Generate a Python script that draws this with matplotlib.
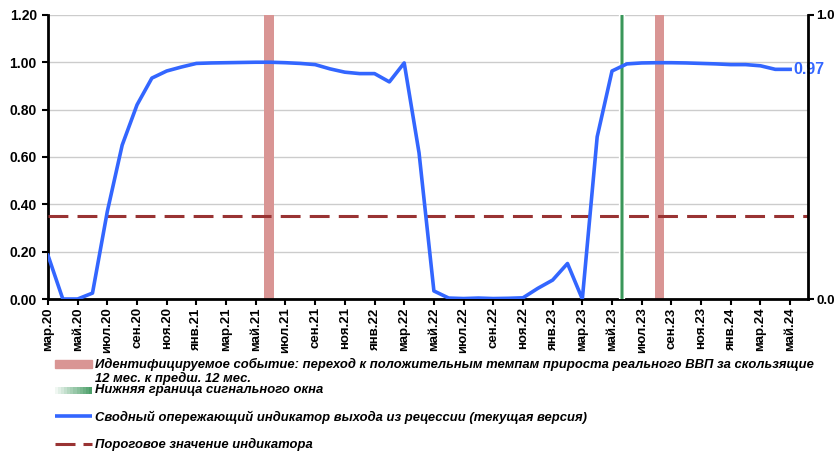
import numpy as np
import matplotlib.pyplot as plt
from matplotlib.lines import Line2D
from matplotlib.patches import Rectangle

plt.rcParams['font.family'] = ['Liberation Sans', 'DejaVu Sans']
plt.rcParams['font.weight'] = 'bold'

# помесячные значения индикатора, мар.20 - май.24
indicator = [0.185, 0.0, 0.0, 0.025, 0.37, 0.65, 0.82, 0.933, 0.963, 0.98,
             0.995, 0.997, 0.998, 0.999, 1.0, 1.0, 0.998, 0.995, 0.99, 0.972,
             0.958, 0.952, 0.952, 0.917, 0.997, 0.617, 0.034, 0.004, 0.002, 0.004,
             0.002, 0.003, 0.005, 0.045, 0.08, 0.15, 0.0, 0.685, 0.963, 0.993,
             0.997, 0.998, 0.998, 0.997, 0.995, 0.993, 0.99, 0.99, 0.985, 0.97,
             0.97]
tick_labels = ['мар.20', 'май.20', 'июл.20', 'сен.20', 'ноя.20', 'янв.21',
               'мар.21', 'май.21', 'июл.21', 'сен.21', 'ноя.21', 'янв.22',
               'мар.22', 'май.22', 'июл.22', 'сен.22', 'ноя.22', 'янв.23',
               'мар.23', 'май.23', 'июл.23', 'сен.23', 'ноя.23', 'янв.24',
               'мар.24', 'май.24']
event_pos = [14.9, 41.2]      # идентифицируемые события (в месяцах от мар.20)
window_pos = 38.65            # нижняя граница сигнального окна
threshold = 0.35

x = np.arange(len(indicator))

fig = plt.figure(figsize=(8.37, 4.51), dpi=100)
ax = fig.add_axes([0.0573, 0.337, 0.908, 0.63])

ax.set_ylim(0, 1.2)
ax.set_xlim(0, 51.2)
ax.set_yticks(np.arange(0, 1.21, 0.2))
ax.set_yticklabels(['%.2f' % v for v in np.arange(0, 1.21, 0.2)], fontsize=10)
ax.grid(axis='y', color='#cccccc', linewidth=1)
ax.set_axisbelow(True)

ax.bar(event_pos, [1.2] * len(event_pos), width=0.67, color='#d99594', zorder=2)
ax.axhline(threshold, color='#993333', linewidth=2.2, dashes=(6.5, 3), zorder=3)
ax.axvline(window_pos, color='white', linewidth=4.5, zorder=4)
ax.axvline(window_pos, color='#9fd0ae', linewidth=2.8, zorder=4)
ax.axvline(window_pos, color='#3a965a', linewidth=1.6, zorder=4)
ax.plot(x, indicator, color='#3366ff', linewidth=2.6, zorder=5, solid_joinstyle='round')
ax.text(x[-1] - 0.1 + 0.35, indicator[-1], '%.2f' % indicator[-1], color='#3366ff',
        fontsize=11.5, fontweight='bold', va='center', ha='left', zorder=6)

ax.set_xticks(x[::2])
ax.set_xticklabels(tick_labels, rotation=90, fontsize=9.5)
ax.tick_params(axis='x', direction='out', length=4, width=1.5, pad=2)
ax.tick_params(axis='y', direction='out', length=4, width=1.5, pad=4)
for s in ['left', 'bottom']:
    ax.spines[s].set_linewidth(2)
ax.spines['top'].set_visible(False)

ax2 = ax.twinx()
ax2.set_ylim(0, 1.0)
ax2.set_yticks([0, 1.0])
ax2.set_yticklabels(['0.0', '1.0'], fontsize=9.5)
ax2.tick_params(axis='y', direction='out', length=4, width=1.5, pad=2)
ax2.spines['right'].set_linewidth(2)
ax2.spines['top'].set_visible(False)
ax2.spines['left'].set_visible(False)
ax2.spines['bottom'].set_visible(False)

# легенда под графиком
W, H = 837, 451
def fx(px):
    return px / W
def fy(py):
    return 1 - py / H

tx = fx(95)
tkw = dict(fontsize=9.4, fontweight='bold', fontstyle='italic', va='center', ha='left')

fig.add_artist(Rectangle((fx(55), fy(368)), fx(92) - fx(55), 8 / H,
                         transform=fig.transFigure, color='#d99594'))
fig.text(tx, fy(371), 'Идентифицируемое событие: переход к положительным темпам прироста '
         'реального ВВП за скользящие\n12 мес. к предш. 12 мес.', linespacing=1.1, **tkw)

n = 12
for i in range(n):
    a = (i + 1) / n
    fig.add_artist(Rectangle((fx(55 + i * 37 / n), fy(394)), 37 / n / W, 7 / H,
                             transform=fig.transFigure, color='#3a965a', alpha=a * 0.9,
                             linewidth=0))
fig.text(tx, fy(390), 'Нижняя граница сигнального окна', **tkw)

fig.add_artist(Line2D([fx(55), fx(92)], [fy(416), fy(416)], transform=fig.transFigure,
                      color='#3366ff', linewidth=2.6, solid_capstyle='butt'))
fig.text(tx, fy(417), 'Сводный опережающий индикатор выхода из рецессии (текущая версия)', **tkw)

fig.add_artist(Line2D([fx(55), fx(75)], [fy(444), fy(444)], transform=fig.transFigure,
                      color='#993333', linewidth=2.2, solid_capstyle='butt'))
fig.add_artist(Line2D([fx(83), fx(92)], [fy(444), fy(444)], transform=fig.transFigure,
                      color='#993333', linewidth=2.2, solid_capstyle='butt'))
fig.text(tx, fy(444), 'Пороговое значение индикатора', **tkw)

fig.savefig('out.png', dpi=100)
